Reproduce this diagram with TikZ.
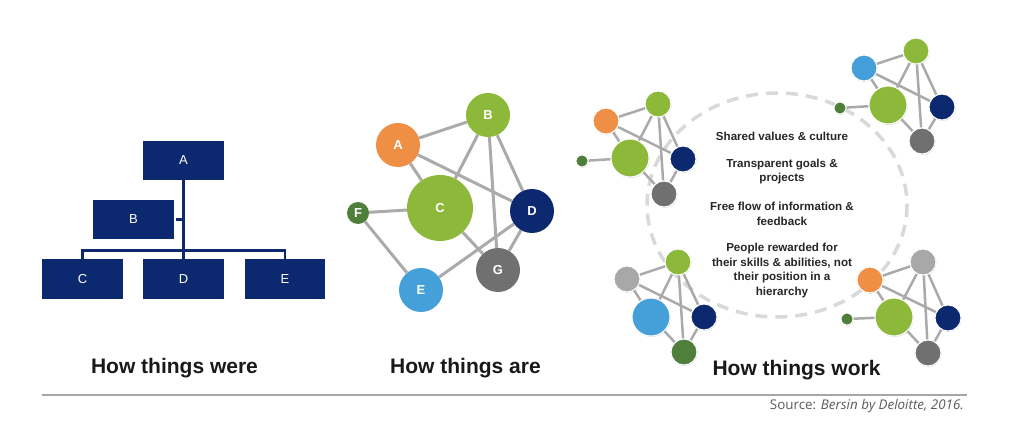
\documentclass[tikz,border=0pt]{standalone}
\usepackage{fontspec}
\setmainfont{Liberation Sans}
\newfontfamily\srcfont{Open Sans}
\usetikzlibrary{shadows}
\definecolor{navy}{RGB}{12,40,110}
\definecolor{lime}{RGB}{141,185,58}
\definecolor{dgreen}{RGB}{80,127,60}
\definecolor{orng}{RGB}{238,143,69}
\definecolor{sky}{RGB}{69,160,218}
\definecolor{dgray}{RGB}{112,112,112}
\definecolor{lgray}{RGB}{168,168,168}
\definecolor{edgec}{RGB}{170,170,170}
\definecolor{dashc}{RGB}{217,217,217}
\definecolor{srcc}{RGB}{90,90,90}
\pgfdeclarelayer{bg}
\pgfsetlayers{bg,main}
\tikzset{
  orgbox/.style={fill=navy, minimum width=81pt, minimum height=39pt, inner sep=0pt, text=white, font=\fontsize{13}{15}\selectfont},
  orgline/.style={draw=navy, line width=2.5pt},
  bub/.style={circle, inner sep=0pt, minimum size=#1, text=white, font=\bfseries\fontsize{13}{15}\selectfont},
  bedge/.style={draw=edgec, line width=3pt},
  dot/.style={circle, inner sep=0pt, minimum size=#1, draw=white, line width=1pt, drop shadow={opacity=0.25, shadow xshift=0.6pt, shadow yshift=-1pt}},
  sedge/.style={draw=edgec, line width=2.5pt},
  title/.style={anchor=base, font=\bfseries\fontsize{21}{25}\selectfont, text=black!90},
  para/.style={align=center, font=\bfseries\fontsize{11.6}{14.5}\selectfont, text=black!85, inner sep=0pt}
}
\begin{document}
\begin{tikzpicture}[x=1pt, y=-1pt]
\useasboundingbox (0,0) rectangle (1024,443);

% ---------- Panel 1: org chart ----------
\node[orgbox] (A1) at (183.5,160.5) {A};
\node[orgbox] (B1) at (133.5,219.5) {B};
\node[orgbox] (C1) at (82.5,279) {C};
\node[orgbox] (D1) at (183.5,279) {D};
\node[orgbox, minimum width=80pt] (E1) at (285,279) {E};
\coordinate (bj) at (184,219.5);
\draw[orgline] (A1.south) -- ++(0,2) -- (D1.north);
\draw[orgline] (C1.north) -- ++(0,-9) -| (E1.north);
\draw[orgline] ([xshift=2pt]B1.east) -- (bj);

% ---------- Panel 2: network ----------
\node[bub=44pt, fill=orng] (A2) at (398,145) {A};
\node[bub=44pt, fill=lime] (B2) at (488,115) {B};
\node[bub=66pt, fill=lime] (C2) at (440,208) {C};
\node[bub=22pt, fill=dgreen] (F2) at (358,213) {F};
\node[bub=44pt, fill=navy] (D2) at (532,211) {D};
\node[bub=44pt, fill=dgray] (G2) at (498,270) {G};
\node[bub=44pt, fill=sky] (E2) at (421,290) {E};
\begin{pgfonlayer}{bg}
\draw[bedge] (A2) -- (B2);
\draw[bedge] (A2) -- (C2);
\draw[bedge] (A2) -- (D2);
\draw[bedge] (B2) -- (C2);
\draw[bedge] (B2) -- (G2);
\draw[bedge] (B2) -- (D2);
\draw[bedge] (C2) -- (F2);
\draw[bedge] (F2) -- (E2);
\draw[bedge] (C2) -- (G2);
\draw[bedge] (E2) -- (D2);
\draw[bedge] (D2) -- (G2);
\end{pgfonlayer}

% ---------- Panel 3: network of networks ----------
\coordinate (ctr) at (777,205);
\begin{pgfonlayer}{bg}
\draw[dashc, line width=3.5pt, dash pattern=on 12pt off 8pt] (ctr) ellipse [x radius=130, y radius=112];
\end{pgfonlayer}

% top-left cluster
\node[dot=26pt, fill=orng] (tA) at (606,121) {};
\node[dot=26pt, fill=lime] (tB) at (658,104) {};
\node[dot=38pt, fill=lime] (tC) at (630,158) {};
\node[dot=12pt, fill=dgreen] (tF) at (582,161) {};
\node[dot=26pt, fill=navy] (tD) at (683,159) {};
\node[dot=26pt, fill=dgray] (tG) at (664,194) {};
% top-right cluster
\node[dot=26pt, fill=sky] (rA) at (864,68) {};
\node[dot=26pt, fill=lime] (rB) at (916,51) {};
\node[dot=38pt, fill=lime] (rC) at (888,105) {};
\node[dot=12pt, fill=dgreen] (rF) at (840,108) {};
\node[dot=26pt, fill=navy] (rD) at (942,107) {};
\node[dot=26pt, fill=dgray] (rG) at (922,141) {};
% bottom-left cluster
\node[dot=26pt, fill=lgray] (lA) at (627,279) {};
\node[dot=26pt, fill=lime] (lB) at (678,262) {};
\node[dot=38pt, fill=sky] (lC) at (651,317) {};
\node[dot=26pt, fill=navy] (lD) at (704,317) {};
\node[dot=26pt, fill=dgreen] (lG) at (684,352) {};
% bottom-right cluster
\node[dot=26pt, fill=orng] (bA) at (870,280) {};
\node[dot=26pt, fill=lgray] (bB) at (923,262) {};
\node[dot=38pt, fill=lime] (bC) at (894,317) {};
\node[dot=12pt, fill=dgreen] (bF) at (847,319) {};
\node[dot=26pt, fill=navy] (bD) at (948,318) {};
\node[dot=26pt, fill=dgray] (bG) at (928,353) {};

\begin{pgfonlayer}{bg}
\foreach \p in {t,r,b}{
  \draw[sedge] (\p A) -- (\p B);
  \draw[sedge] (\p A) -- (\p C);
  \draw[sedge] (\p A) -- (\p D);
  \draw[sedge] (\p B) -- (\p C);
  \draw[sedge] (\p B) -- (\p G);
  \draw[sedge] (\p B) -- (\p D);
  \draw[sedge] (\p C) -- (\p F);
  \draw[sedge] (\p C) -- (\p G);
  \draw[sedge] (\p D) -- (\p G);
}
\draw[sedge] (lA) -- (lB);
\draw[sedge] (lA) -- (lC);
\draw[sedge] (lA) -- (lD);
\draw[sedge] (lB) -- (lC);
\draw[sedge] (lB) -- (lG);
\draw[sedge] (lB) -- (lD);
\draw[sedge] (lC) -- (lG);
\draw[sedge] (lD) -- (lG);
\end{pgfonlayer}

\node[para] (p1) at (782,136) {Shared values \& culture};
\node[para] (p2) at (782,171.5) {Transparent goals \&\\projects};
\node[para] (p3) at (782,214) {Free flow of information \&\\feedback};
\node[para] (p4) at (782,270.5) {People rewarded for\\their skills \& abilities, not\\their position in a\\hierarchy};

% ---------- Titles ----------
\node[title] (t1) at (174.5,373) {How things were};
\node[title] (t2) at (465.5,373) {How things are};
\node[title] (t3) at (796.5,375) {How things work};

% ---------- Source ----------
\coordinate (rl) at (42,395);
\coordinate (rr) at (967,395);
\draw[black!35, line width=1.2pt] (rl) -- (rr);
\node[anchor=base east, inner sep=0pt, text=srcc, font=\srcfont\fontsize{13.4}{15}\selectfont] (src) at (964,409) {Source: \textit{Bersin by Deloitte, 2016.}};
\end{tikzpicture}
\end{document}
